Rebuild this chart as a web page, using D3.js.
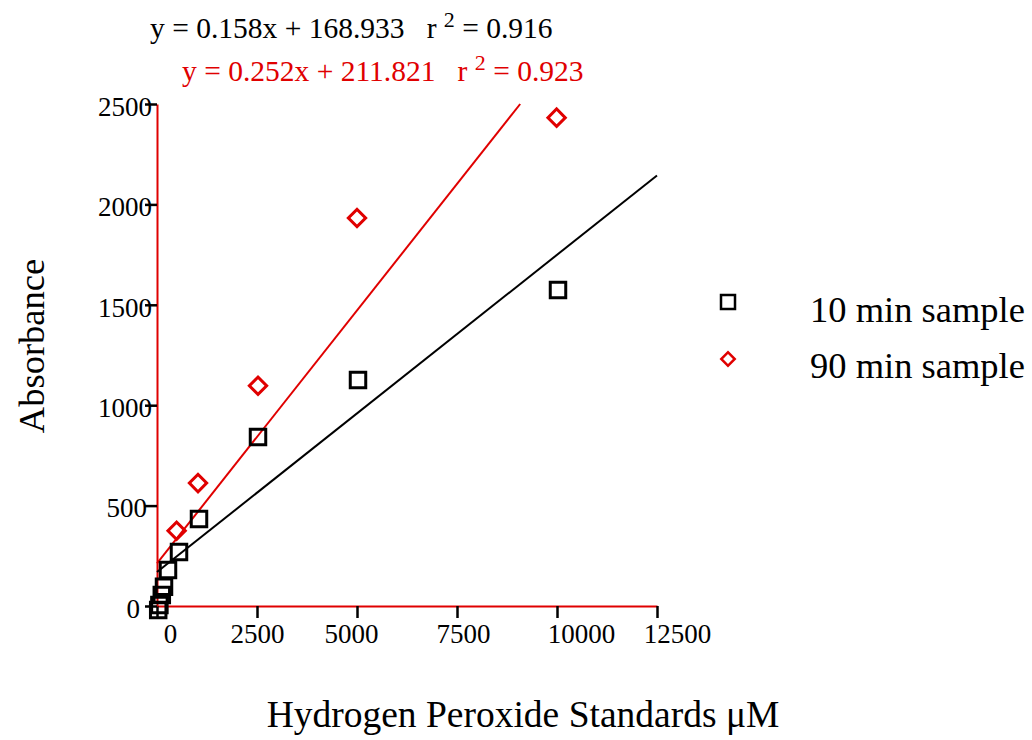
<!DOCTYPE html>
<html>
<head>
<meta charset="utf-8">
<script src="https://cdn.jsdelivr.net/npm/d3@7/dist/d3.min.js"></script>
<style>
  body { margin: 0; background: #fff; }
  svg { display: block; font-family: "Liberation Serif", "Times New Roman", serif; }
  text { white-space: pre; }
</style>
</head>
<body>
<svg id="chart" width="1032" height="740"></svg>
<script>
// ---- data ----
const seriesNames = ["10 min sample", "90 min sample"];
const x10 = [30, 60, 120, 175, 275, 550, 1050, 2525, 5025, 10025];
const y10 = [-20, 5, 55, 96, 179, 269, 433, 842, 1125, 1574];
const x90 = [490, 1025, 2525, 5000, 9990];
const y90 = [375, 612, 1097, 1932, 2432];
const fit10 = { slope: 0.158, intercept: 168.933, r2: 0.916 };
const fit90 = { slope: 0.252, intercept: 211.821, r2: 0.923 };
const xTicks = [0, 2500, 5000, 7500, 10000, 12500];
const yTicks = [0, 500, 1000, 1500, 2000, 2500];
const xTitle = "Hydrogen Peroxide Standards μM";
const yTitle = "Absorbance";

// ---- layout ----
const svg = d3.select("#chart");
const x = d3.scaleLinear().domain([0, 12500]).range([157, 657]);
const y = d3.scaleLinear().domain([0, 2500]).range([606, 104]);
const black = "#000", red = "#e00000";

// x axis
const gx = svg.append("g").attr("transform", `translate(0,${y(0)})`)
  .call(d3.axisBottom(x).tickValues(xTicks).tickSize(12).tickSizeOuter(0).tickPadding(6).tickFormat(d3.format("d")));
gx.select(".domain").attr("stroke", red).attr("stroke-width", 2);
gx.selectAll(".tick line").attr("stroke", black).attr("stroke-width", 2.5);
const xLabelNudge = [13, 0, -6, 6, 24, 20];
gx.selectAll(".tick text").attr("fill", black).attr("font-size", 27)
  .attr("font-family", "Liberation Serif")
  .attr("dx", (d, i) => xLabelNudge[i]);

// y axis
const gy = svg.append("g").attr("transform", `translate(${x(0)},0)`)
  .call(d3.axisLeft(y).tickValues(yTicks).tickSize(12).tickSizeOuter(0).tickPadding(-7).tickFormat(d3.format("d")));
gy.select(".domain").attr("stroke", red).attr("stroke-width", 2);
gy.selectAll(".tick line").attr("stroke", black).attr("stroke-width", 2.5);
const yLabelNudge = [-12, -5, 0, 0, 0, 0];
gy.selectAll(".tick text").attr("fill", black).attr("font-size", 27)
  .attr("font-family", "Liberation Serif").attr("dy", "0.42em")
  .attr("dx", (d, i) => yLabelNudge[i]);

// regression lines
const clipTop = 2500;
function fitLine(f, color) {
  const x0 = 0;
  let x1 = 12500;
  if (f.slope * x1 + f.intercept > clipTop) x1 = (clipTop - f.intercept) / f.slope;
  svg.append("line")
    .attr("x1", x(x0)).attr("y1", y(f.slope * x0 + f.intercept))
    .attr("x2", x(x1)).attr("y2", y(f.slope * x1 + f.intercept))
    .attr("stroke", color).attr("stroke-width", 2);
}
fitLine(fit10, black);
fitLine(fit90, red);

// markers
const sq = d3.symbol().type(d3.symbolSquare).size(240);
const dm = d3.symbol().type(d3.symbolSquare).size(150);
svg.append("g").selectAll("path").data(x90.map((v, i) => [v, y90[i]])).join("path")
  .attr("d", dm).attr("transform", d => `translate(${x(d[0])},${y(d[1])}) rotate(45)`)
  .attr("fill", "none").attr("stroke", red).attr("stroke-width", 3);
svg.append("g").selectAll("path").data(x10.map((v, i) => [v, y10[i]])).join("path")
  .attr("d", sq).attr("transform", d => `translate(${x(d[0])},${y(d[1])})`)
  .attr("fill", "none").attr("stroke", black).attr("stroke-width", 3);

// equations
function eq(f, color, tx, ty) {
  const t = svg.append("text").attr("x", tx).attr("y", ty).attr("fill", color).attr("font-size", 29.5);
  t.append("tspan").text(`y = ${f.slope.toFixed(3)}x + ${f.intercept.toFixed(3)}   r `);
  t.append("tspan").attr("dy", -11).attr("font-size", 22).text("2");
  t.append("tspan").attr("dy", 11).text(` = ${f.r2.toFixed(3)}`);
}
eq(fit10, black, 150, 38);
eq(fit90, red, 182, 81);

// legend
svg.append("path").attr("d", d3.symbol().type(d3.symbolSquare).size(196))
  .attr("transform", "translate(728,302)").attr("fill", "none").attr("stroke", black).attr("stroke-width", 2.5);
svg.append("path").attr("d", d3.symbol().type(d3.symbolSquare).size(90))
  .attr("transform", "translate(728,359) rotate(45)").attr("fill", "none").attr("stroke", red).attr("stroke-width", 2.5);
svg.append("text").attr("x", 810).attr("y", 322).attr("font-size", 36.5).attr("fill", black).text(seriesNames[0]);
svg.append("text").attr("x", 810).attr("y", 378).attr("font-size", 36.5).attr("fill", black).text(seriesNames[1]);

// axis titles
svg.append("text").attr("transform", "translate(44,346) rotate(-90)").attr("text-anchor", "middle")
  .attr("font-size", 36.5).attr("fill", black).text(yTitle);
svg.append("text").attr("x", 523).attr("y", 727).attr("text-anchor", "middle")
  .attr("font-size", 37.5).attr("fill", black).text(xTitle);
</script>
</body>
</html>
